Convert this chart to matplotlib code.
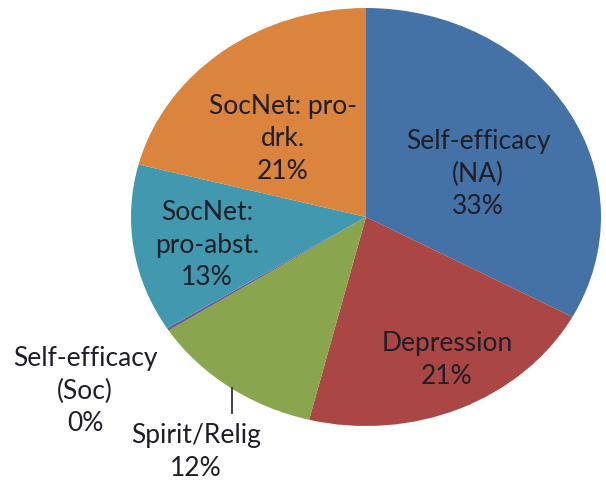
import matplotlib
matplotlib.use("Agg")
import matplotlib.pyplot as plt

categories = ["Self-efficacy\n(NA)", "Depression", "Spirit/Relig", "Self-efficacy\n(Soc)",
              "SocNet:\npro-abst.", "SocNet: pro-\ndrk."]
values = [33, 21, 12, 0.2, 13, 21]
pct_labels = ["33%", "21%", "12%", "0%", "13%", "21%"]
colors = ["#4472A6", "#AA4644", "#89A54E", "#71588F", "#4198AF", "#DB843D"]

W, H = 606, 483
fig = plt.figure(figsize=(W / 100, H / 100), dpi=100)
cx, cy, rx, ry = 366, 217, 235, 209
ax = fig.add_axes([(cx - rx) / W, 1 - (cy + ry) / H, 2 * rx / W, 2 * ry / H])
wedges, _ = ax.pie(values, colors=colors, startangle=90, counterclock=False,
                   wedgeprops=dict(linewidth=0))
ax.set_aspect("auto")
ax.set_xlim(-1, 1)
ax.set_ylim(-1, 1)
ax.axis("off")

# label positions in pixels (layout)
label_pos = [(478, 174), (447, 360), (196, 452), (85, 391), (207, 245), (283, 139)]
for (x, y), cat, p in zip(label_pos, categories, pct_labels):
    fig.text(x / W, 1 - y / H, f"{cat}\n{p}", ha="center", va="center",
             fontsize=19, family="Lato", color="#1e1e28", linespacing=1.38)

# leader line for Spirit/Relig
fig.add_artist(plt.Line2D([232 / W, 232 / W], [1 - 388 / H, 1 - 413 / H],
                          color="#222222", linewidth=1.2))

fig.savefig("out.png", dpi=100)
